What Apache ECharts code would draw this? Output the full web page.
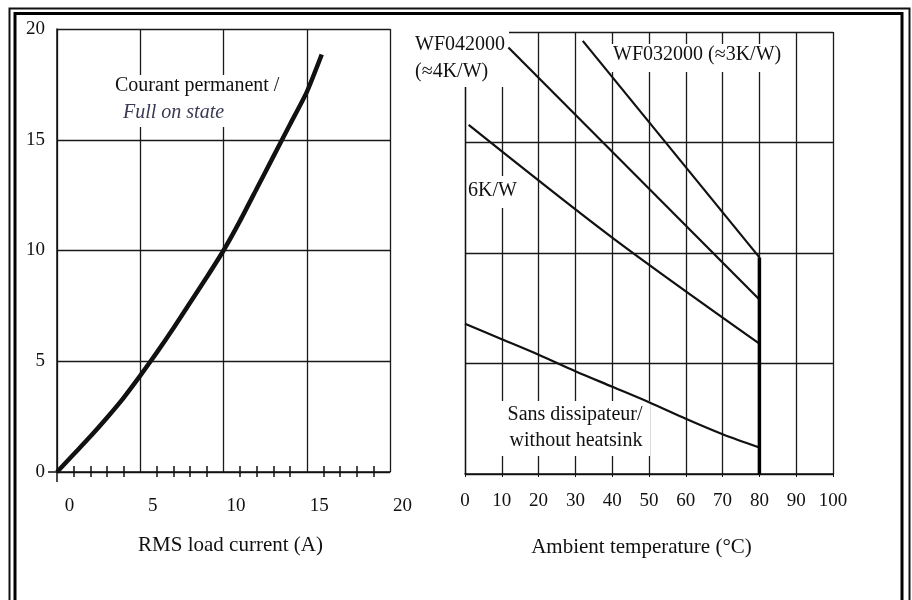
<!DOCTYPE html>
<html>
<head>
<meta charset="utf-8">
<script src="https://cdn.jsdelivr.net/npm/echarts@6/dist/echarts.min.js"></script>
<style>
html,body{margin:0;padding:0;background:#fff;}
#chart{width:912px;height:600px;}
</style>
</head>
<body>
<div id="chart"></div>
<script>
// ---- Left chart: power dissipation vs RMS load current ----
const currentA = [0, 1, 2, 3, 4, 5, 6, 7, 8, 9, 10, 11, 12, 13, 14, 15, 15.9];
const powerFullOn = [0, 0.8, 1.6, 2.45, 3.35, 4.35, 5.4, 6.5, 7.65, 8.8, 10, 11.35, 12.8, 14.25, 15.7, 17.15, 18.85];

// ---- Right chart: power vs ambient temperature ----
const temp3K = [32, 80];
const pow3K = [19.6, 9.8];
const temp4K = [11.8, 80];
const pow4K = [19.3, 7.9];
const temp6K = [1, 40, 80];
const pow6K = [15.8, 10.7, 5.9];
const tempNoHs = [0, 10, 20, 30, 40, 50, 60, 70, 80];
const powNoHs = [6.8, 6.1, 5.4, 4.65, 3.95, 3.25, 2.5, 1.8, 1.2];
const tempLimit = [80, 80];
const powLimit = [0, 9.8];

const zip = (xs, ys) => xs.map((x, i) => [x, ys[i]]);

const FONT = '"Liberation Serif", "Times New Roman", serif';
const INK = '#111';
const GRID = { color: '#1a1a1a', width: 1.3 };

const chart = echarts.init(document.getElementById('chart'));

function textEl(text, x, y, opts) {
  opts = opts || {};
  return {
    type: 'text', x: x, y: y, z: 10,
    style: {
      text: text,
      font: (opts.italic ? 'italic ' : '') + (opts.size || 20) + 'px ' + FONT,
      fill: opts.fill || INK,
      align: opts.align || 'left', verticalAlign: 'middle',
      textAlign: opts.align || 'left', textVerticalAlign: 'middle'
    }
  };
}
function cover(x, y, w, h) {
  return { type: 'rect', z: 1, shape: { x: x, y: y, width: w, height: h }, style: { fill: '#fff' } };
}

const hiddenAxisParts = {
  axisLine: { show: false },
  axisLabel: { show: false },
  splitLine: { show: false }
};

const option = {
  backgroundColor: '#fff',
  animation: false,
  grid: [
    { left: 57, top: 29, right: 522, bottom: 128 },
    { left: 465, top: 32, right: 79, bottom: 126 }
  ],
  xAxis: [
    {
      gridIndex: 0, type: 'value', position: 'bottom', min: 0, max: 20, interval: 5,
      axisLine: { show: true, onZero: false, lineStyle: { color: INK, width: 1.5 } },
      axisTick: { show: false, inside: false },
      minorTick: { show: true, splitNumber: 5, length: 5, lineStyle: { color: INK, width: 1.5 } },
      axisLabel: { fontFamily: FONT, fontSize: 19, color: INK, margin: 25, padding: [0, 0, 0, 25] },
      splitLine: { show: true, lineStyle: GRID },
      name: 'RMS load current (A)', nameLocation: 'middle', nameGap: 63,
      nameTextStyle: { fontFamily: FONT, fontSize: 21, color: INK, padding: [0, 0, 0, 14] }
    },
    Object.assign({
      gridIndex: 0, type: 'value', position: 'bottom', min: 0, max: 20, interval: 5,
      axisTick: { show: false, inside: true },
      minorTick: { show: true, splitNumber: 5, length: 6, lineStyle: { color: INK, width: 1.5 } }
    }, hiddenAxisParts),
    {
      gridIndex: 1, type: 'value', position: 'bottom', min: 0, max: 100, interval: 10,
      axisLine: { show: true, onZero: false, lineStyle: { color: INK, width: 1.5 } },
      axisTick: { show: true, length: 3, lineStyle: { color: INK } },
      axisLabel: { fontFamily: FONT, fontSize: 19, color: INK, margin: 18 },
      splitLine: { show: true, lineStyle: GRID },
      name: 'Ambient temperature (°C)', nameLocation: 'middle', nameGap: 63,
      nameTextStyle: { fontFamily: FONT, fontSize: 21, color: INK, padding: [0, 15, 0, 0] }
    },
    Object.assign({
      gridIndex: 0, type: 'value', position: 'bottom', min: 0, max: 20, interval: 5,
      axisTick: { show: true, inside: false, length: 10, customValues: [0], lineStyle: { color: INK, width: 1.5 } }
    }, hiddenAxisParts)
  ],
  yAxis: [
    {
      gridIndex: 0, type: 'value', position: 'left', min: 0, max: 20, interval: 5,
      axisLine: { show: true, onZero: false, lineStyle: { color: INK, width: 1.5 } },
      axisTick: { show: false },
      axisLabel: { fontFamily: FONT, fontSize: 19, color: INK, margin: 12 },
      splitLine: { show: true, lineStyle: GRID }
    },
    {
      gridIndex: 1, type: 'value', position: 'left', min: 0, max: 20, interval: 5,
      axisLine: { show: true, onZero: false, lineStyle: { color: INK, width: 1.3 } },
      axisTick: { show: false },
      axisLabel: { show: false },
      splitLine: { show: true, lineStyle: GRID }
    },
    Object.assign({
      gridIndex: 0, type: 'value', position: 'left', min: 0, max: 20, interval: 5,
      axisTick: { show: true, length: 9, customValues: [0], lineStyle: { color: INK, width: 1.5 } }
    }, hiddenAxisParts)
  ],
  series: [
    {
      name: 'Full on state', type: 'line', xAxisIndex: 0, yAxisIndex: 0, z: 5,
      data: zip(currentA, powerFullOn), smooth: 0.2, showSymbol: false,
      lineStyle: { color: '#111', width: 4.5 }
    },
    {
      name: 'WF032000', type: 'line', xAxisIndex: 2, yAxisIndex: 1, z: 5,
      data: zip(temp3K, pow3K), showSymbol: false, lineStyle: { color: '#111', width: 2.2 }
    },
    {
      name: 'WF042000', type: 'line', xAxisIndex: 2, yAxisIndex: 1, z: 5,
      data: zip(temp4K, pow4K), showSymbol: false, lineStyle: { color: '#111', width: 2.2 }
    },
    {
      name: '6K/W', type: 'line', xAxisIndex: 2, yAxisIndex: 1, z: 5, smooth: 0.3,
      data: zip(temp6K, pow6K), showSymbol: false, lineStyle: { color: '#111', width: 2.2 }
    },
    {
      name: 'Sans dissipateur', type: 'line', xAxisIndex: 2, yAxisIndex: 1, z: 5, smooth: 0.3,
      data: zip(tempNoHs, powNoHs), showSymbol: false, lineStyle: { color: '#111', width: 2.2 }
    },
    {
      name: 'Limit', type: 'line', xAxisIndex: 2, yAxisIndex: 1, z: 6,
      data: zip(tempLimit, powLimit), showSymbol: false, lineStyle: { color: '#000', width: 3.5 }
    }
  ],
  graphic: [
    // double frame
    { type: 'rect', z: 20, shape: { x: 9.5, y: 8.5, width: 900, height: 700 }, style: { fill: 'none', stroke: '#111', lineWidth: 2 } },
    { type: 'rect', z: 20, shape: { x: 15, y: 13.5, width: 887, height: 700 }, style: { fill: 'none', stroke: '#000', lineWidth: 3 } },
    // white covers behind annotations
    cover(110, 75, 182, 52),
    cover(406, 30, 103, 57),
    cover(609, 44, 180, 28),
    cover(467, 176, 48, 32),
    cover(500, 401, 150, 55),
    // annotations
    textEl('Courant permanent /', 115, 86),
    textEl('Full on state', 123, 113, { italic: true, fill: '#3a3a55' }),
    textEl('WF042000', 415, 45),
    textEl('(≈4K/W)', 415, 72),
    textEl('WF032000 (≈3K/W)', 613, 55),
    textEl('6K/W', 468, 191),
    textEl('Sans dissipateur/', 575, 415, { align: 'center' }),
    textEl('without heatsink', 576, 441, { align: 'center' })
  ]
};
chart.setOption(option);
</script>
</body>
</html>
